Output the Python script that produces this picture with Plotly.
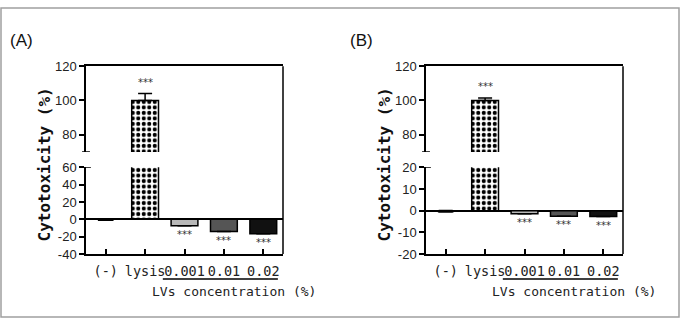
import plotly.graph_objects as go

categories = ["(-)", "lysis", "0.001", "0.01", "0.02"]
vals_A = [-1.0, 100.0, -7.5, -14.0, -16.5]
err_A = [0.4, 4.0, 0.0, 0.0, 0.0]
vals_B = [-0.5, 100.0, -1.4, -2.6, -2.7]
err_B = [0.6, 1.5, 0.0, 0.0, 0.0]
stars = ["", "***", "***", "***", "***"]
bar_colors = ["#111111", "black", "#b8b8b8", "#555555", "#111111"]
bar_widths = [0.36, 0.68, 0.68, 0.68, 0.68]
patterns = ["", ".", "", "", ""]

upper_range = [70, 120]
upper_ticks = [80, 100, 120]
lower_range_A = [-40, 60]
lower_ticks_A = [-40, -20, 0, 20, 40, 60]
lower_range_B = [-20, 20]
lower_ticks_B = [-20, -10, 0, 10, 20]

W, H = 680, 326
def px_x(p):
    return p / W
def px_y(p):
    return 1 - p / H

TICKFONT = dict(family="Liberation Sans, Arial", size=13, color="#222")
CATFONT = dict(family="DejaVu Sans Mono", size=13.5, color="#222")

fig = go.Figure()

panels = [
    dict(vals=vals_A, err=err_A, lr=lower_range_A, lt=lower_ticks_A, off=0,
         xl="x", xu="x2", yl="y", yu="y2", label="(A)"),
    dict(vals=vals_B, err=err_B, lr=lower_range_B, lt=lower_ticks_B, off=340,
         xl="x3", xu="x4", yl="y3", yu="y4", label="(B)"),
]

def tick_text(vals):
    return [str(v) for v in vals]

shapes = []
annotations = []
for i, p in enumerate(panels):
    xd = [px_x(86 + p["off"]), px_x(283 + p["off"])]
    up_dom = [px_y(152), px_y(62)]
    lo_dom = [px_y(259), px_y(168)]
    for xa, ya in [(p["xl"], p["yl"]), (p["xu"], p["yu"])]:
        fig.add_trace(go.Bar(
            x=categories, y=p["vals"], width=bar_widths, xaxis=xa, yaxis=ya,
            marker=dict(color=bar_colors, line=dict(color="black", width=1.5),
                        pattern=dict(shape=patterns, fgcolor="white", size=5.5,
                                     solidity=0.45, fillmode="replace")),
            error_y=dict(type="data", array=p["err"], arrayminus=[0] * len(p["err"]),
                         symmetric=False, color="black", thickness=1.5, width=7),
            showlegend=False, hoverinfo="skip"))
    n = 2 * i
    xl_key = "xaxis" if n == 0 else f"xaxis{n+1}"
    xu_key = f"xaxis{n+2}"
    yl_key = "yaxis" if n == 0 else f"yaxis{n+1}"
    yu_key = f"yaxis{n+2}"
    fig.layout[xl_key] = dict(domain=xd, anchor=p["yl"], type="category", range=[-0.5, 4.5],
                              showline=True, linecolor="black", linewidth=1.5,
                              ticks="inside", ticklen=5, tickwidth=1.5, tickcolor="black",
                              tickangle=0, tickfont=CATFONT, ticklabelstandoff=4,
                              showgrid=False, zeroline=False)
    fig.layout[xu_key] = dict(domain=xd, anchor=p["yu"], type="category", range=[-0.5, 4.5],
                              matches=p["xl"], side="top", showline=True, linecolor="black",
                              linewidth=1.5, showticklabels=False, ticks="", showgrid=False,
                              zeroline=False)
    fig.layout[yl_key] = dict(domain=lo_dom, anchor=p["xl"], range=p["lr"], showline=True,
                              linecolor="black", linewidth=1.5, ticks="outside", ticklen=5,
                              tickwidth=1.5, tickcolor="black", tickvals=p["lt"],
                              ticktext=tick_text(p["lt"]), tickfont=TICKFONT, showgrid=False,
                              zeroline=True, zerolinecolor="black", zerolinewidth=1.5)
    fig.layout[yu_key] = dict(domain=up_dom, anchor=p["xu"], range=upper_range, showline=True,
                              linecolor="black", linewidth=1.5, ticks="outside", ticklen=5,
                              tickwidth=1.5, tickcolor="black", tickvals=upper_ticks,
                              ticktext=tick_text(upper_ticks), tickfont=TICKFONT,
                              showgrid=False, zeroline=False)
    # right frame line
    shapes.append(dict(type="line", xref=f"{p['xl']} domain", yref="paper", x0=1, x1=1,
                       y0=lo_dom[0], y1=up_dom[1], line=dict(color="black", width=1.5)))
    # break caps
    shapes.append(dict(type="line", xref=f"{p['xl']} domain", yref=p["yu"], x0=-0.02, x1=0.02,
                       y0=upper_range[0], y1=upper_range[0], line=dict(color="black", width=1.5)))
    shapes.append(dict(type="line", xref=f"{p['xl']} domain", yref=p["yl"], x0=-0.02, x1=0.025,
                       y0=p["lr"][1], y1=p["lr"][1], line=dict(color="black", width=1.5)))
    # underline for LVs
    shapes.append(dict(type="line", xref=p["xl"], yref="paper", x0=1.45, x1=4.37,
                       y0=px_y(285), y1=px_y(285), line=dict(color="black", width=1.5)))
    # stars
    for k, (v, e, s) in enumerate(zip(p["vals"], p["err"], stars)):
        if not s:
            continue
        if v > 0:
            annotations.append(dict(x=k, y=v + e, xref=p["xu"], yref=p["yu"], text=s,
                                    showarrow=False, yanchor="bottom", yshift=4,
                                    font=dict(family="DejaVu Sans", size=10, color="#333")))
        else:
            annotations.append(dict(x=k, y=v - e, xref=p["xl"], yref=p["yl"], text=s,
                                    showarrow=False, yanchor="top", yshift=-1,
                                    font=dict(family="DejaVu Sans", size=10, color="#333")))
    annotations.append(dict(x=px_x(150 + p["off"]), y=px_y(298), xref="paper", yref="paper",
                            text="LVs concentration (%)", showarrow=False, xanchor="left",
                            yanchor="middle", font=dict(family="DejaVu Sans Mono", size=13, color="#222")))
    annotations.append(dict(x=px_x(44 + p["off"]), y=px_y(165), xref="paper", yref="paper",
                            text="<b>Cytotoxicity (%)</b>", showarrow=False, textangle=-90,
                            xanchor="center", yanchor="middle",
                            font=dict(family="DejaVu Sans Mono", size=16, color="#111")))
    annotations.append(dict(x=px_x(8 + p["off"]), y=px_y(35), xref="paper", yref="paper",
                            text=p["label"], showarrow=False, xanchor="left", yanchor="middle",
                            font=dict(family="Liberation Sans, Arial", size=17, color="#111")))

shapes.append(dict(type="rect", xref="paper", yref="paper", x0=px_x(1), x1=px_x(679),
                   y0=px_y(325), y1=px_y(1), line=dict(color="#a0a0a0", width=1.5)))

fig.update_layout(width=W, height=H, margin=dict(l=0, r=0, t=0, b=0),
                  paper_bgcolor="white", plot_bgcolor="white", showlegend=False,
                  shapes=shapes, annotations=annotations, bargap=0.3)

fig.write_html("out.html")
